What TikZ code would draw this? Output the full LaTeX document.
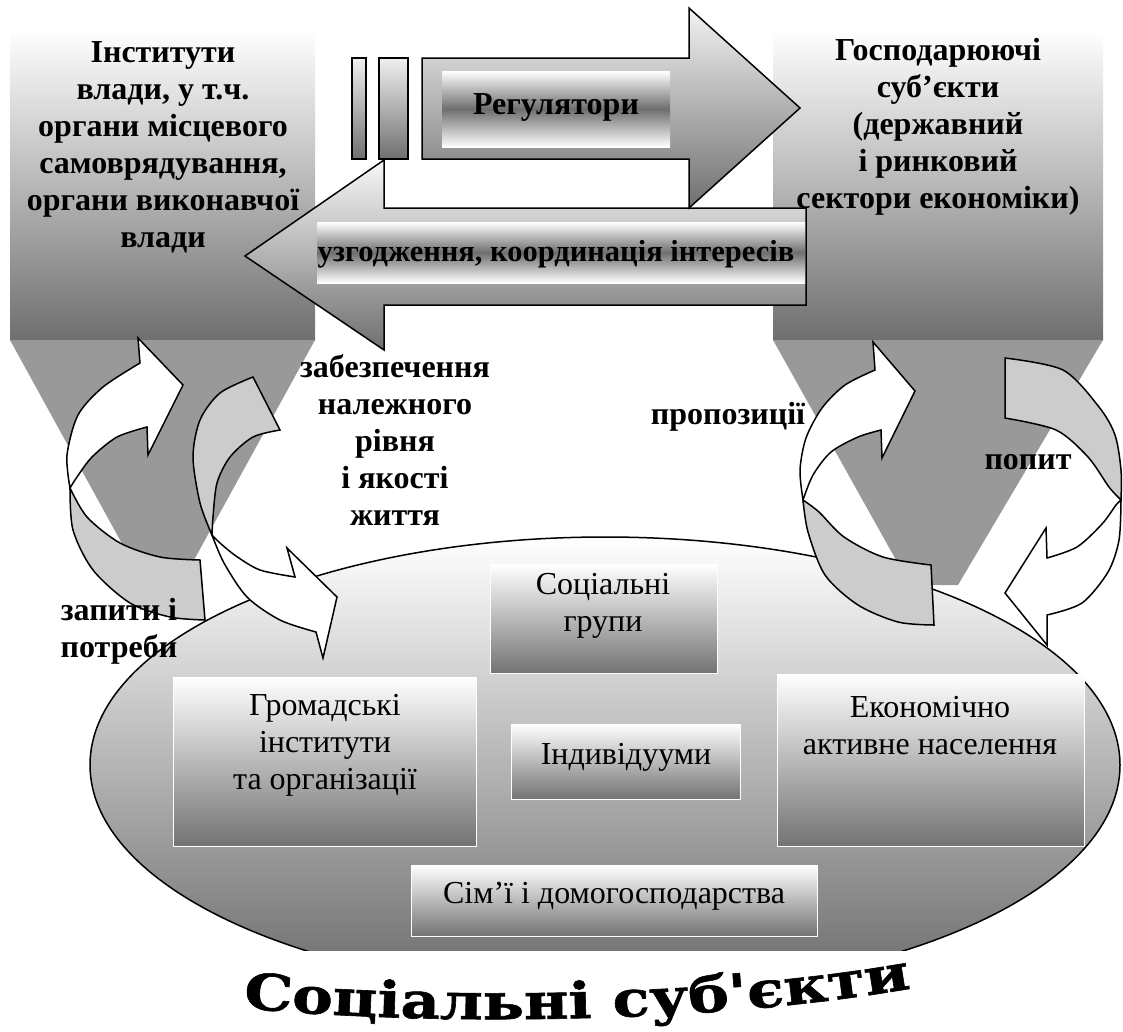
\documentclass[tikz,border=0pt]{standalone}
\usepackage{fontspec}
\setmainfont{Liberation Serif}
\newfontfamily\titlefont{DejaVu Serif}[FakeStretch=1.22, FakeBold=1.2]
\usepackage{tikz}
\usetikzlibrary{decorations.text}

\definecolor{funnelgray}{HTML}{999999}
\definecolor{ribbongray}{HTML}{CCCCCC}
\definecolor{boxgray}{HTML}{6F6F6F}
\definecolor{panelgray}{HTML}{737373}
\definecolor{ovalgray}{HTML}{6A6A6A}
\definecolor{bandgray}{HTML}{6E6E6E}

\tikzset{
  bigbox/.style={top color=white, bottom color=boxgray},
  funnel/.style={fill=funnelgray},
  innerbox/.style={top color=white, bottom color=panelgray, draw=white, line width=1pt},
  ribbonfront/.style={fill=white, draw=black, line width=1.5pt},
  ribbonback/.style={fill=ribbongray, draw=black, line width=1.5pt},
  flatarrow/.style={draw=black, line width=1.5pt, top color=#1, bottom color=boxgray},
  bandbox/.style={top color=white, bottom color=white, middle color=bandgray},
  boldlabel/.style={font=\fontsize{32}{37}\selectfont\bfseries, align=center, inner sep=0pt},
  plainlabel/.style={font=\fontsize{32}{37}\selectfont, align=center, inner sep=0pt}
}

\begin{document}
\begin{tikzpicture}[x=1pt, y=-1pt]
\useasboundingbox (0,0) rectangle (1123,1031);
% Top gradient panels and their funnels
\path[bigbox] (10,30) rectangle (315,340);
\fill[funnel] (10,340) -- (315,340) -- (194,560) -- (131,560) -- cycle;
\path[bigbox] (773,30) rectangle (1103,340);
\fill[funnel] (773,340) -- (1103,340) -- (958,585) -- (910,585) -- cycle;
% Social subjects oval (bottom cut flat)
\begin{scope}
  \clip (0,0) rectangle (1123,950);
  \path[top color=white, bottom color=ovalgray, draw=black, line width=1.5pt]
    (605,765) ellipse [x radius=515, y radius=228];
\end{scope}
% Panels inside the oval
\path[innerbox] (490,564) rectangle (717,673);
\path[innerbox] (173,677) rectangle (476,846);
\path[innerbox] (511,724) rectangle (740,799);
\path[innerbox] (777,674) rectangle (1084,846);
\path[innerbox] (411,865) rectangle (817,936);
\node[plainlabel] (groups) at (603,606) {Соціальні\\групи};
\node[plainlabel] (civil) at (325,745) {Громадські\\інститути\\та організації};
\node[plainlabel] (persons) at (626,757) {Індивідууми};
\node[plainlabel] (active) at (930,726) {Економічно\\активне населення};
\node[plainlabel] (families) at (614,896) {Сім’ї і домогосподарства};
% Curved ribbon arrows, left pair
\path[ribbonfront] plot[smooth] coordinates {(70,488) (67,455) (78,415) (103,387) (140,363)}
  -- (138,338) -- (183,385) -- (148,455) -- (147,427)
  -- plot[smooth] coordinates {(147,427) (117,437) (92,457) (77,477) (70,488)} -- cycle;
\path[ribbonback] plot[smooth] coordinates {(70,488) (73,530) (93,570) (130,603) (170,617) (205,620)}
  -- (200,560)
  -- plot[smooth] coordinates {(200,560) (160,557) (120,543) (87,517) (70,488)} -- cycle;
\path[ribbonfront] plot[smooth] coordinates {(212,535) (224,563) (247,597) (280,620) (316,632)}
  -- (323,658) -- (337,597) -- (287,548) -- (295,577)
  -- plot[smooth] coordinates {(295,577) (260,570) (236,556) (220,543) (212,535)} -- cycle;
\path[ribbonback] (253,377) -- (280,430)
  -- plot[smooth] coordinates {(280,430) (253,437) (230,457) (217,483) (213,517) (212,535)}
  -- plot[smooth] coordinates {(212,535) (200,503) (193,457) (200,420) (220,393) (253,377)} -- cycle;
% Curved ribbon arrows, right pair
\path[ribbonfront] plot[smooth] coordinates {(803,500) (800,470) (806,438) (822,408) (845,385) (875,370)}
  -- (873,342) -- (915,391) -- (882,458) -- (881,430)
  -- plot[smooth] coordinates {(881,430) (858,437) (831,452) (813,475) (803,500)} -- cycle;
\path[ribbonback] plot[smooth] coordinates {(803,500) (808,532) (825,575) (858,605) (898,622) (934,625)}
  -- (931,565)
  -- plot[smooth] coordinates {(931,565) (883,557) (844,537) (819,512) (803,500)} -- cycle;
\path[ribbonfront] plot[smooth] coordinates {(1121,500) (1119,540) (1108,572) (1082,603) (1047,615)}
  -- (1047,645) -- (1005,593) -- (1046,528) -- (1047,558)
  -- plot[smooth] coordinates {(1047,558) (1077,547) (1102,524) (1116,505) (1121,500)} -- cycle;
\path[ribbonback] (1005,358) -- (1005,418)
  -- plot[smooth] coordinates {(1005,418) (1056,430) (1088,457) (1109,487) (1121,500)}
  -- plot[smooth] coordinates {(1121,500) (1121,470) (1115,435) (1099,407) (1063,370) (1005,358)} -- cycle;
% Block arrows between the panels
\path[flatarrow=white!97!black] (806,208) -- (384,208) -- (384,160) -- (245,256)
  -- (384,350) -- (384,305) -- (806,305) -- cycle;
\path[bandbox] (317,222) rectangle (805,283);
\path[flatarrow=white!94!black] (352,58) rectangle (366,159);
\path[flatarrow=white!94!black] (379,58) rectangle (408,159);
\path[flatarrow=white!95!black] (422,58) -- (689,58) -- (689,8) -- (800,108)
  -- (689,208) -- (689,159) -- (422,159) -- cycle;
\path[bandbox] (442,71) rectangle (670,147);
\node[boldlabel] (regul) at (556,107) {Регулятори};
\node[boldlabel, font=\fontsize{30.5}{36}\selectfont\bfseries] (coord) at (556,254) {узгодження, координація інтересів};
% Panel captions and flow labels
\node[boldlabel] (power) at (163,147) {Інститути\\влади, у т.ч.\\органи місцевого\\самоврядування,\\органи виконавчої\\влади};
\node[boldlabel] (business) at (938,127) {Господарюючі\\суб’єкти\\(державний\\і ринковий\\сектори економіки)};
\node[boldlabel] (quality) at (395,440) {забезпечення\\належного\\рівня\\і якості\\життя};
\node[boldlabel] (offers) at (728,417) {пропозиції};
\node[boldlabel] (demand) at (1028,462) {попит};
\node[boldlabel] (needs) at (119,631) {запити і\\потреби};
% Arched title
\path[decorate, decoration={text along path, text align=fit to path,
  text={|\titlefont\bfseries\fontsize{50}{52}\selectfont|Соціальні суб'єкти}}]
  (243,1008) .. controls (430,1026) and (700,1024) .. (902,990);
\end{tikzpicture}
\end{document}
